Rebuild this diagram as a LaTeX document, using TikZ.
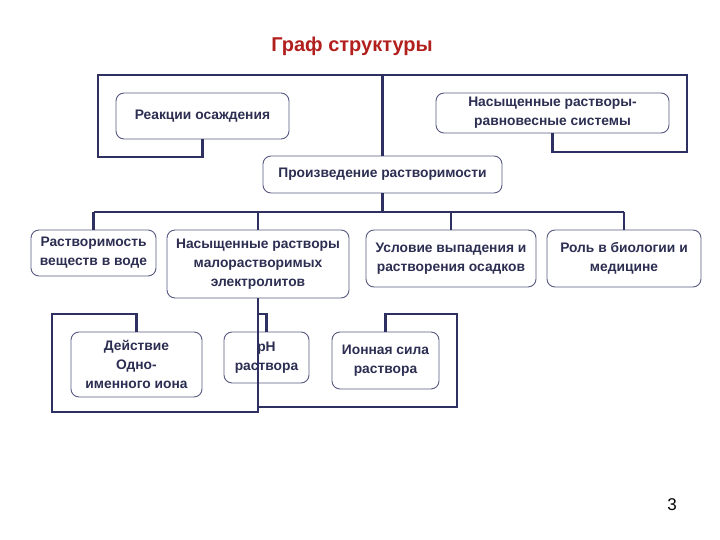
\documentclass[tikz,border=0pt]{standalone}
\usepackage{fontspec}
\setmainfont{Liberation Sans}
\usepackage{tikz}
\usetikzlibrary{positioning}

\definecolor{navy}{RGB}{46,48,98}
\definecolor{boxline}{RGB}{88,90,128}
\definecolor{boxtext}{RGB}{44,46,82}
\definecolor{titlered}{RGB}{178,32,30}

\tikzset{
  box/.style={draw=boxline, line width=0.9pt, rounded corners=8pt, fill=white,
    align=center, inner sep=2pt, text=boxtext,
    font=\fontsize{13.8}{18.8}\selectfont\bfseries},
  link/.style={navy, line width=2.6pt}
}

\begin{document}
\begin{tikzpicture}[x=1pt,y=-1pt]

\useasboundingbox (0,0) rectangle (720,540);

% title and page number
\node (title) at (352,46) [text=titlered, font=\fontsize{20}{22}\selectfont\bfseries] {Граф структуры};
\node (page) at (672,505) [font=\fontsize{17}{20}\selectfont] {3};

% top level
\node[box, minimum width=173pt, minimum height=46pt] (reak) at (202.5,116) {Реакции осаждения};
\node[box, minimum width=233pt, minimum height=40pt] (sat) at (552.5,113) {Насыщенные растворы-\\равновесные системы};
\node[box, minimum width=239pt, minimum height=37pt] (prod) at (382.5,174.5) {Произведение растворимости};

% second level
\node[box, minimum width=125pt, minimum height=46pt] (solub) at (93.5,253) {Растворимость\\веществ в воде};
\node[box, minimum width=182pt, minimum height=68pt] (satel) at (258,264) {Насыщенные растворы\\малорастворимых\\электролитов};
\node[box, minimum width=170pt, minimum height=57pt] (cond) at (451,258.5) {Условие выпадения и\\растворения осадков};
\node[box, minimum width=154pt, minimum height=57pt] (role) at (624,258.5) {Роль в биологии и\\медицине};

% third level
\node[box, minimum width=131pt, minimum height=65pt] (act) at (136.5,364.5) {Действие\\Одно-\\именного иона};
\node[box, minimum width=85pt, minimum height=51pt] (ph) at (266.5,357.5) {pH\\раствора};
\node[box, minimum width=107pt, minimum height=57pt] (ion) at (385.5,360.5) {Ионная сила\\раствора};

% connectors, top
\draw[link] (reak.south) |- (98,157) |- (687,75) -- (687,152) -| (sat.south);
\draw[link] (prod.north) -- (prod.north |- 0,75);

% bus
\coordinate (bus) at (382.5,212);
\draw[link] (prod.south) -- (bus);
\draw[link] (solub.north |- bus) -- (role.north |- bus);
\foreach \n in {solub,satel,cond,role}
  \draw[link] (\n.north |- bus) -- (\n.north);

% connectors, bottom
\draw[link] (act.north) |- (52,314) -- (52,412) -| (satel.south);
\draw[link] (ph.north) |- (satel.south |- 0,314);
\draw[link] (ion.north) |- (457,314) -- (457,407) -- (satel.south |- 0,407);

\end{tikzpicture}
\end{document}
